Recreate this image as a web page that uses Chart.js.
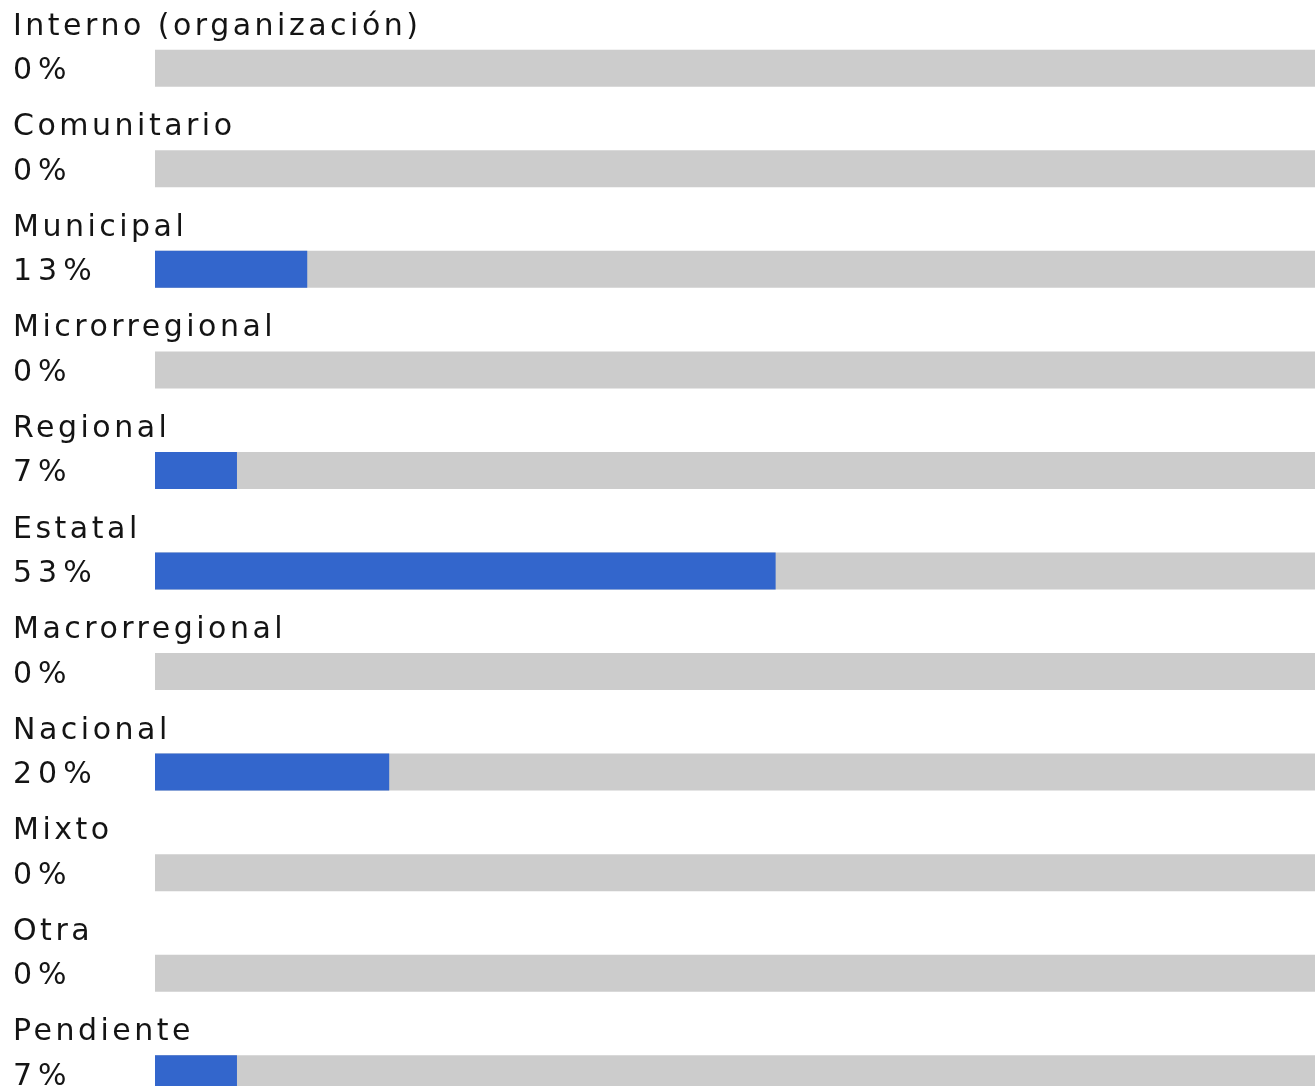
<!DOCTYPE html>
<html>
<head>
<meta charset="utf-8">
<script src="https://cdn.jsdelivr.net/npm/chart.js@4"></script>
<style>
  html, body { margin: 0; padding: 0; background: #ffffff; overflow: hidden; }
  #wrap { position: absolute; left: 0; top: 0; width: 1315px; height: 1086px; overflow: hidden; }
</style>
</head>
<body>
<div id="wrap">
  <canvas id="myChart" width="1326" height="1124"></canvas>
</div>
<script>
// categories (top to bottom)
const categorias = [
    'Interno (organización)', 'Comunitario', 'Municipal', 'Microrregional',
    'Regional', 'Estatal', 'Macrorregional', 'Nacional', 'Mixto', 'Otra', 'Pendiente'
];
// percent per category
const porcentajes = [0, 0, 13, 0, 7, 53, 0, 20, 0, 0, 7];
// full track behind each bar (100%)
const fondo = [100, 100, 100, 100, 100, 100, 100, 100, 100, 100, 100];
// text shown left of each bar
const etiquetas = ['0%', '0%', '13%', '0%', '7%', '53%', '0%', '20%', '0%', '0%', '7%'];

const textos = {
    id: 'textos',
    afterDatasetsDraw(chart) {
        const ctx = chart.ctx;
        const y = chart.scales.y;
        ctx.save();
        ctx.fillStyle = '#141414';
        ctx.font = '30px "DejaVu Sans"';
        ctx.textAlign = 'left';
        ctx.textBaseline = 'alphabetic';
        categorias.forEach((nombre, i) => {
            const py = y.getPixelForValue(i);
            ctx.letterSpacing = '3.5px';
            ctx.fillText(nombre, 13, py - 33.5);
            ctx.letterSpacing = '6px';
            ctx.fillText(etiquetas[i], 13, py + 11);
        });
        ctx.restore();
    }
};

const ctx = document.getElementById('myChart').getContext('2d');
const myChart = new Chart(ctx, {
    type: 'bar',
    data: {
        labels: categorias,
        datasets: [{
            label: 'valor',
            data: porcentajes,
            backgroundColor: '#3366cc',
            barThickness: 37,
            inflateAmount: 0,
            grouped: false,
            order: 1
        }, {
            label: 'fondo',
            data: fondo,
            backgroundColor: '#cccccc',
            barThickness: 37,
            inflateAmount: 0,
            grouped: false,
            order: 2
        }]
    },
    options: {
        indexAxis: 'y',
        responsive: false,
        animation: false,
        layout: { padding: { left: 155, right: 0, top: 18, bottom: 0 } },
        plugins: {
            legend: { display: false },
            tooltip: { enabled: false }
        },
        scales: {
            x: { min: 0, max: 100, display: false },
            y: { display: false }
        }
    },
    plugins: [textos]
});
</script>
</body>
</html>
